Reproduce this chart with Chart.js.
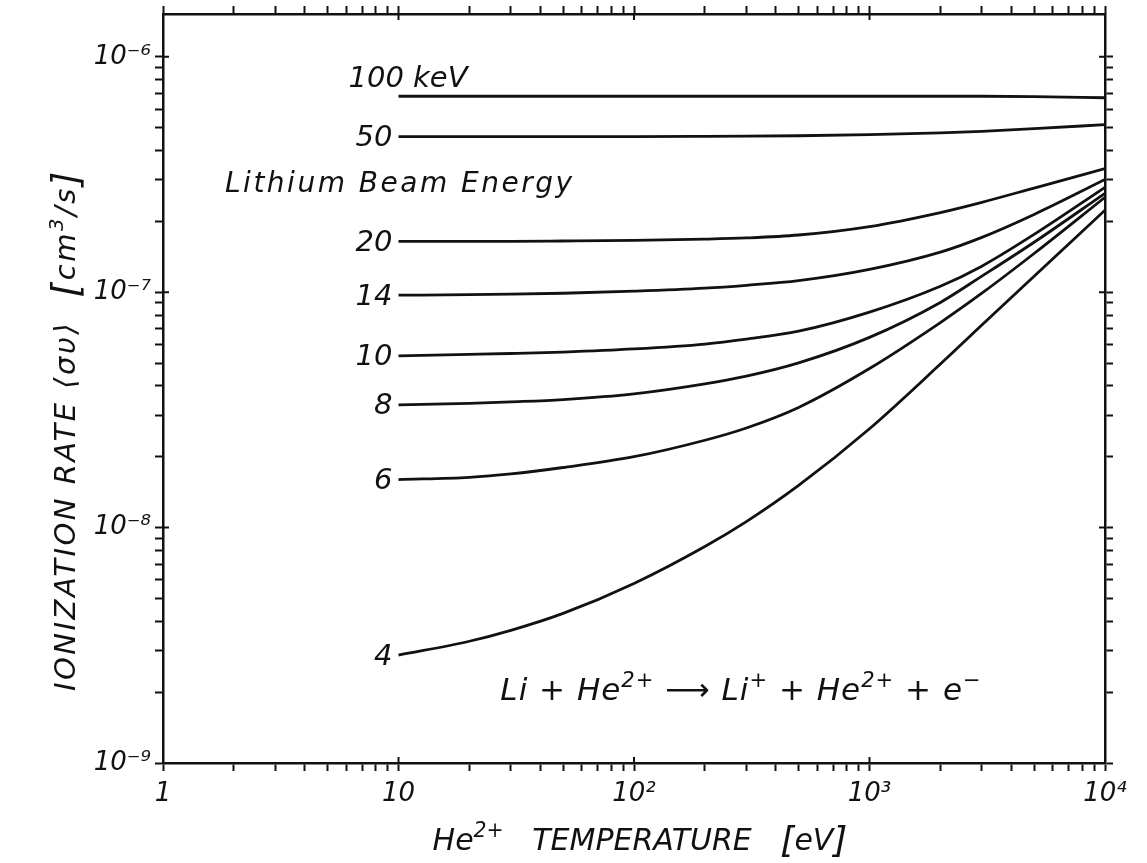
<!DOCTYPE html>
<html>
<head>
<meta charset="utf-8">
<script src="https://cdn.jsdelivr.net/npm/chart.js@4.4.0/dist/chart.umd.min.js"></script>
<style>
  html, body { margin: 0; padding: 0; background: #fff; }
</style>
</head>
<body>
<canvas id="myChart" width="1147" height="863"></canvas>
<script>
// He2+ temperature [eV]
const temps = [10, 20, 30, 50, 100, 200, 300, 500, 1000, 2000, 3000, 5000, 10000];

// ionization rate <sigma v> [cm3/s], one list per lithium beam energy
const rate100 = [6.80e-7, 6.80e-7, 6.80e-7, 6.80e-7, 6.80e-7, 6.80e-7, 6.80e-7, 6.80e-7, 6.80e-7, 6.80e-7, 6.80e-7, 6.78e-7, 6.70e-7];
const rate50 = [4.58e-7, 4.58e-7, 4.58e-7, 4.58e-7, 4.58e-7, 4.59e-7, 4.60e-7, 4.62e-7, 4.67e-7, 4.75e-7, 4.82e-7, 4.95e-7, 5.15e-7];
const rate20 = [1.645e-7, 1.645e-7, 1.645e-7, 1.65e-7, 1.66e-7, 1.68e-7, 1.70e-7, 1.75e-7, 1.90e-7, 2.18e-7, 2.41e-7, 2.77e-7, 3.35e-7];
const rate14 = [9.71e-8, 9.76e-8, 9.81e-8, 9.90e-8, 1.01e-7, 1.04e-7, 1.07e-7, 1.12e-7, 1.25e-7, 1.48e-7, 1.71e-7, 2.14e-7, 3.01e-7];
const rate10 = [5.36e-8, 5.44e-8, 5.49e-8, 5.57e-8, 5.74e-8, 6.02e-8, 6.32e-8, 6.83e-8, 8.23e-8, 1.06e-7, 1.29e-7, 1.76e-7, 2.79e-7];
const rate8 = [3.32e-8, 3.37e-8, 3.42e-8, 3.50e-8, 3.70e-8, 4.08e-8, 4.40e-8, 5.01e-8, 6.43e-8, 9.05e-8, 1.17e-7, 1.63e-7, 2.63e-7];
const rate6 = [1.60e-8, 1.635e-8, 1.69e-8, 1.80e-8, 2.00e-8, 2.35e-8, 2.65e-8, 3.24e-8, 4.74e-8, 7.43e-8, 9.90e-8, 1.46e-7, 2.53e-7];
const rate4 = [2.87e-9, 3.29e-9, 3.66e-9, 4.32e-9, 5.79e-9, 8.31e-9, 1.06e-8, 1.51e-8, 2.63e-8, 4.95e-8, 7.25e-8, 1.17e-7, 2.23e-7];

const beamLabels = ['100 keV', '50', '20', '14', '10', '8', '6', '4'];
const rates = [rate100, rate50, rate20, rate14, rate10, rate8, rate6, rate4];

const xTickLabels = { 1: '1', 10: '10', 100: '10²', 1000: '10³', 10000: '10⁴' };
const yTickLabels = { 1e-9: '10⁻⁹', 1e-8: '10⁻⁸', 1e-7: '10⁻⁷', 1e-6: '10⁻⁶' };

const FONT = '"DejaVu Sans", sans-serif';

function logTicks(lo, hi, max) {
    let out = [];
    for (let e = lo; e <= hi; e++) {
        for (let m = 1; m <= 9; m++) {
            let v = parseFloat((m * Math.pow(10, e)).toPrecision(3));
            if (v <= max) out.push({ value: v, major: m === 1 });
        }
    }
    return out;
}

function setFont(ctx, size) {
    ctx.font = 'italic ' + size + 'px ' + FONT;
}

// draws a line of text made of pieces, some of them raised as superscripts
function drawRich(ctx, parts, x, y, size, align) {
    let pieces = parts.map(p => {
        let s = p.sup ? size * 0.68 : size * (p.scale || 1);
        setFont(ctx, s);
        return { t: p.t, s: s, w: ctx.measureText(p.t).width, dy: p.sup ? -size * 0.42 : (p.dy || 0) };
    });
    let total = pieces.reduce((a, p) => a + p.w, 0);
    let cx = align === 'center' ? x - total / 2 : align === 'right' ? x - total : x;
    ctx.textAlign = 'left';
    ctx.textBaseline = 'alphabetic';
    pieces.forEach(p => {
        setFont(ctx, p.s);
        ctx.fillText(p.t, cx, y + p.dy);
        cx += p.w;
    });
}

const annotations = {
    id: 'annotations',
    afterDraw(chart) {
        const ctx = chart.ctx;
        const xs = chart.scales.x, ys = chart.scales.y;
        const area = chart.chartArea;
        ctx.save();
        ctx.fillStyle = '#111';

        // inward half of the decade ticks
        ctx.strokeStyle = '#111';
        ctx.lineWidth = 2;
        ctx.beginPath();
        xs.ticks.forEach(t => {
            if (!t.major) return;
            let px = xs.getPixelForValue(t.value);
            ctx.moveTo(px, area.bottom); ctx.lineTo(px, area.bottom - 6);
            ctx.moveTo(px, area.top); ctx.lineTo(px, area.top + 6);
        });
        ys.ticks.forEach(t => {
            if (!t.major) return;
            let py = ys.getPixelForValue(t.value);
            ctx.moveTo(area.left, py); ctx.lineTo(area.left + 6, py);
            ctx.moveTo(area.right, py); ctx.lineTo(area.right - 6, py);
        });
        ctx.stroke();

        // curve labels at the start of each curve
        chart.data.datasets.forEach((ds, i) => {
            let first = ds.data[0];
            let px = xs.getPixelForValue(first.x);
            let py = ys.getPixelForValue(first.y);
            setFont(ctx, 29);
            if (i === 0) {
                ctx.textAlign = 'left';
                ctx.textBaseline = 'alphabetic';
                ctx.fillText(ds.label, px - 50, py - 9);
            } else {
                ctx.textAlign = 'right';
                ctx.textBaseline = 'middle';
                ctx.fillText(ds.label, px - 6, py + 2);
            }
        });

        setFont(ctx, 28);
        ctx.letterSpacing = '2.5px';
        ctx.textAlign = 'left';
        ctx.textBaseline = 'alphabetic';
        ctx.fillText('Lithium Beam Energy', area.left + 62, 192);

        ctx.letterSpacing = '1px';
        drawRich(ctx, [
            { t: 'Li + He' }, { t: '2+', sup: true }, { t: ' ⟶ Li' }, { t: '+', sup: true },
            { t: ' + He' }, { t: '2+', sup: true }, { t: ' + e' }, { t: '−', sup: true }
        ], 741, 700, 31, 'center');
        ctx.letterSpacing = '0px';

        // axis titles
        drawRich(ctx, [
            { t: 'He' }, { t: '2+', sup: true }, { t: '   TEMPERATURE   ' }, { t: '[', scale: 1.2, dy: 2 },
            { t: 'eV' }, { t: ']', scale: 1.2, dy: 2 }
        ], (area.left + area.right) / 2 + 6, 850, 30, 'center');

        ctx.translate(75, 430);
        ctx.rotate(-Math.PI / 2);
        ctx.letterSpacing = '2.5px';
        drawRich(ctx, [
            { t: 'IONIZATION RATE ⟨συ⟩  ' }, { t: '[', scale: 1.3, dy: 3 }, { t: 'cm' }, { t: '3', sup: true },
            { t: '/s' }, { t: ']', scale: 1.3, dy: 3 }
        ], 0, 0, 29, 'center');
        ctx.restore();
    }
};

function axisBox(size) {
    return function (scale) {
        if (scale.isHorizontal()) {
            scale.height = size;
            scale.paddingLeft = 0;
            scale.paddingRight = 0;
        } else {
            scale.width = size;
            scale.paddingTop = 0;
            scale.paddingBottom = 0;
        }
    };
}

const gridOpts = {
    drawOnChartArea: false,
    drawTicks: true,
    tickLength: 8,
    tickWidth: 2,
    tickColor: '#111'
};
const borderOpts = { display: true, color: '#111', width: 2.5 };
const tickFont = { family: FONT, style: 'italic', size: 26 };

const ctx = document.getElementById('myChart');

new Chart(ctx, {
    type: 'line',
    data: {
        datasets: rates.map((r, i) => ({
            label: beamLabels[i],
            data: temps.map((t, j) => ({ x: t, y: r[j] })),
            borderColor: '#111',
            borderWidth: 2.8,
            pointRadius: 0,
            cubicInterpolationMode: 'monotone',
            fill: false
        }))
    },
    options: {
        responsive: false,
        animation: false,
        layout: { autoPadding: false, padding: 0 },
        plugins: {
            legend: { display: false },
            tooltip: { enabled: false }
        },
        scales: {
            x: {
                type: 'logarithmic',
                position: 'bottom',
                min: 1,
                max: 10000,
                afterBuildTicks: s => { s.ticks = logTicks(0, 4, 10000); },
                afterFit: axisBox(100),
                grid: gridOpts,
                border: borderOpts,
                ticks: {
                    autoSkip: false,
                    maxRotation: 0,
                    padding: 8,
                    color: '#111',
                    font: tickFont,
                    callback: v => xTickLabels[v] || ''
                }
            },
            x2: {
                type: 'logarithmic',
                position: 'top',
                min: 1,
                max: 10000,
                afterBuildTicks: s => { s.ticks = logTicks(0, 4, 10000); },
                afterFit: axisBox(14),
                grid: gridOpts,
                border: borderOpts,
                ticks: { autoSkip: false, maxRotation: 0, callback: () => '' }
            },
            y: {
                type: 'logarithmic',
                position: 'left',
                min: 1e-9,
                max: 1.52e-6,
                afterBuildTicks: s => { s.ticks = logTicks(-9, -6, 1.52e-6); },
                afterFit: axisBox(163),
                grid: gridOpts,
                border: borderOpts,
                ticks: {
                    autoSkip: false,
                    padding: 4,
                    color: '#111',
                    font: tickFont,
                    callback: v => yTickLabels[v] || ''
                }
            },
            y2: {
                type: 'logarithmic',
                position: 'right',
                min: 1e-9,
                max: 1.52e-6,
                afterBuildTicks: s => { s.ticks = logTicks(-9, -6, 1.52e-6); },
                afterFit: axisBox(42),
                grid: gridOpts,
                border: borderOpts,
                ticks: { autoSkip: false, callback: () => '' }
            }
        }
    },
    plugins: [annotations]
});
</script>
</body>
</html>
